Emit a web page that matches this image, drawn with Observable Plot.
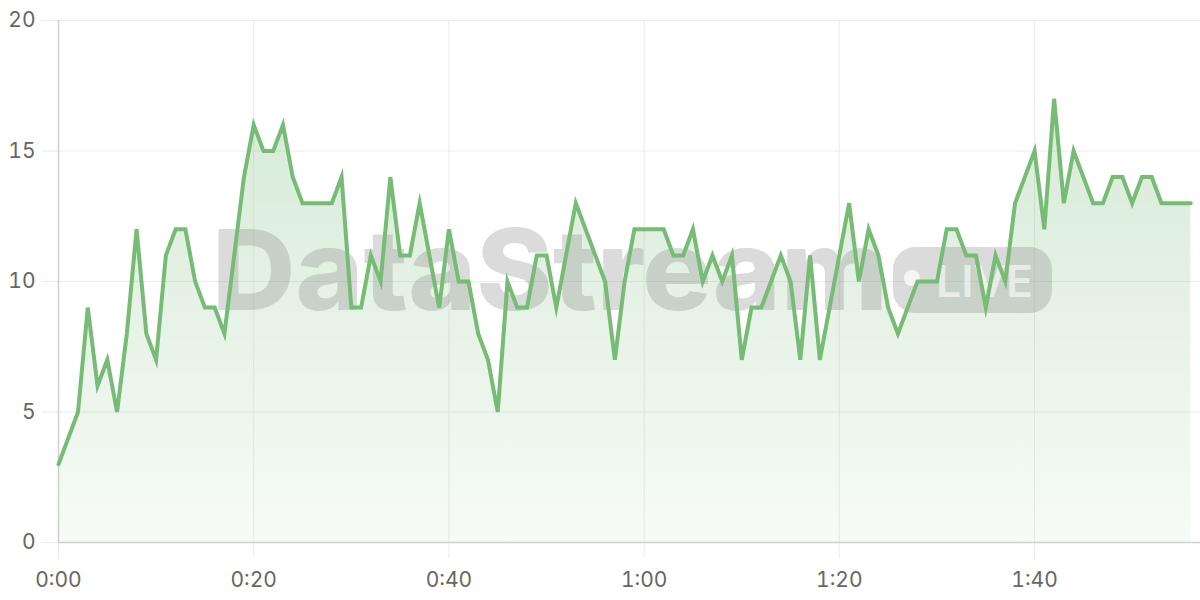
<!DOCTYPE html>
<html>
<head>
<meta charset="utf-8">
<script src="https://cdn.jsdelivr.net/npm/d3@7"></script>
<script src="https://cdn.jsdelivr.net/npm/@observablehq/plot@0.6"></script>
<style>
  html, body { margin: 0; padding: 0; background: #fff; }
  #chart { width: 1200px; height: 600px; }
</style>
</head>
<body>
<div id="chart"></div>
<script>
// Values sampled once per second (seconds 0..116)
const values = [
  3, 4, 5, 9, 6, 7, 5, 8, 12, 8,
  7, 11, 12, 12, 10, 9, 9, 8, 11, 14,
  16, 15, 15, 16, 14, 13, 13, 13, 13, 14,
  9, 9, 11, 10, 14, 11, 11, 13, 11, 9,
  12, 10, 10, 8, 7, 5, 10, 9, 9, 11,
  11, 9, 11, 13, 12, 11, 10, 7, 10, 12,
  12, 12, 12, 11, 11, 12, 10, 11, 10, 11,
  7, 9, 9, 10, 11, 10, 7, 11, 7, 9,
  11, 13, 10, 12, 11, 9, 8, 9, 10, 10,
  10, 12, 12, 11, 11, 9, 11, 10, 13, 14,
  15, 12, 17, 13, 15, 14, 13, 13, 14, 14,
  13, 14, 14, 13, 13, 13, 13
];
const xTicks = [0, 20, 40, 60, 80, 100];
const xTickLabels = ["0:00", "0:20", "0:40", "1:00", "1:20", "1:40"];
const yTicks = [0, 5, 10, 15, 20];
const xDomain = [0, 117];
const yDomain = [0, 20];
const watermarkText = "DataStream";
const badgeText = "LIVE";

const data = values.map((v, i) => ({t: i, v}));
const lineColor = "#77bb77";
const gridColor = "#ebebeb";

const plot = Plot.plot({
  width: 1200,
  height: 600,
  marginLeft: 58,
  marginRight: 0,
  marginTop: 20,
  marginBottom: 58,
  style: {fontFamily: "Inter, 'Noto Sans', sans-serif", fontSize: "21px", background: "#fff"},
  x: {domain: xDomain, ticks: xTicks, tickFormat: d => xTickLabels[xTicks.indexOf(d)], label: null},
  y: {domain: yDomain, ticks: yTicks, label: null},
  marks: [
    Plot.gridX({ticks: xTicks, stroke: gridColor, strokeOpacity: 1}),
    Plot.gridY({ticks: yTicks, stroke: gridColor, strokeOpacity: 1}),
    Plot.areaY(data, {x: "t", y: "v", fill: "url(#areaGrad)"}),
    Plot.axisX({ticks: xTicks, tickFormat: d => xTickLabels[xTicks.indexOf(d)], tickSize: 16, tickPadding: 14, stroke: gridColor, fill: "#666", label: null}),
    Plot.axisY({ticks: yTicks, tickSize: 16, tickPadding: 7, stroke: gridColor, fill: "#666", label: null}),
    Plot.ruleX([0], {stroke: "#cfcfcf", strokeWidth: 1.5}),
    Plot.ruleY([0], {stroke: "#cfcfcf", strokeWidth: 1.5}),
    Plot.lineY(data, {x: "t", y: "v", stroke: lineColor, strokeWidth: 4, strokeLinejoin: "miter", strokeMiterlimit: 6})
  ]
});

document.getElementById("chart").appendChild(plot);

// gradient definition for the area
const svg = d3.select(plot);
const defs = svg.insert("defs", ":first-child");
const grad = defs.append("linearGradient")
  .attr("id", "areaGrad").attr("x1", 0).attr("y1", 0).attr("x2", 0).attr("y2", 1);
grad.append("stop").attr("offset", "0%").attr("stop-color", lineColor).attr("stop-opacity", 0.3);
grad.append("stop").attr("offset", "100%").attr("stop-color", lineColor).attr("stop-opacity", 0.06);

// watermark, placed beneath the line
const lineNode = plot.querySelector('[aria-label="line"]');
const wm = d3.create("svg:g").attr("pointer-events", "none").attr("text-anchor", "start");
wm.append("text")
  .attr("x", 212).attr("y", 310)
  .attr("text-anchor", "start")
  .attr("font-family", "Inter, 'Noto Sans', sans-serif")
  .attr("font-weight", 800)
  .attr("font-size", 112)
  .attr("textLength", 676)
  .attr("lengthAdjust", "spacingAndGlyphs")
  .attr("fill", "#888").attr("fill-opacity", 0.3)
  .text(watermarkText);
wm.append("rect")
  .attr("x", 893).attr("y", 247).attr("width", 159).attr("height", 66).attr("rx", 22)
  .attr("fill", "#888").attr("fill-opacity", 0.3);
wm.append("circle")
  .attr("cx", 912).attr("cy", 278).attr("r", 8)
  .attr("fill", "#fff").attr("fill-opacity", 0.75);
wm.append("text")
  .attr("x", 936).attr("y", 297)
  .attr("text-anchor", "start")
  .attr("font-family", "Inter, 'Noto Sans', sans-serif")
  .attr("font-weight", 600)
  .attr("font-size", 44)
  .attr("textLength", 97)
  .attr("lengthAdjust", "spacingAndGlyphs")
  .attr("fill", "#fff").attr("fill-opacity", 0.6)
  .text(badgeText);
plot.insertBefore(wm.node(), lineNode);
</script>
</body>
</html>
